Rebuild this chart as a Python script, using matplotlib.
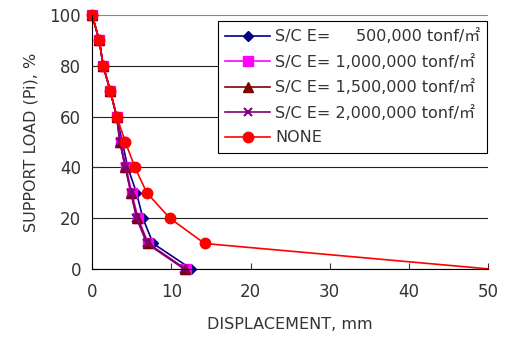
import matplotlib.pyplot as plt

plt.rcParams['font.family'] = ['DejaVu Sans', 'Noto Sans CJK KR']

load = [100, 90, 80, 70, 60, 50, 40, 30, 20, 10, 0]
disp_500k = [0, 0.9, 1.4, 2.3, 3.1, 3.8, 4.5, 5.6, 6.4, 7.7, 12.5]
disp_1000k = [0, 0.9, 1.4, 2.3, 3.1, 3.6, 4.3, 5.0, 5.8, 7.1, 11.8]
disp_1500k = [0, 0.9, 1.4, 2.3, 3.1, 3.5, 4.2, 4.9, 5.7, 7.0, 11.7]
disp_2000k = [0, 0.9, 1.4, 2.3, 3.1, 3.5, 4.2, 4.9, 5.6, 6.9, 11.6]
disp_none = [0, 0.9, 1.4, 2.3, 3.1, 4.2, 5.4, 6.9, 9.8, 14.2, 50]

labels = ['S/C E=     500,000 tonf/㎡',
          'S/C E= 1,000,000 tonf/㎡',
          'S/C E= 1,500,000 tonf/㎡',
          'S/C E= 2,000,000 tonf/㎡',
          'NONE']

fig = plt.figure(figsize=(5.09, 3.51), dpi=100)
ax = fig.add_axes([0.181, 0.234, 0.778, 0.723])

ax.plot(disp_500k, load, color='#000080', marker='D', markersize=5, lw=1.2, label=labels[0], clip_on=False)
ax.plot(disp_1000k, load, color='#ff00ff', marker='s', markersize=6.5, lw=1.2, label=labels[1], clip_on=False)
ax.plot(disp_1500k, load, color='#800000', marker='^', markersize=6.5, lw=1.2, label=labels[2], clip_on=False)
ax.plot(disp_2000k, load, color='#800080', marker='x', markersize=6, mew=1.5, lw=1.2, label=labels[3], clip_on=False)
# last point of NONE sits on the plot edge without a marker
ax.plot(disp_none, load, color='#ff0000', marker='o', markersize=7.5, lw=1.2, label=labels[4],
        markevery=slice(0, len(load) - 1), clip_on=False)

ax.set_xlim(0, 50)
ax.set_ylim(0, 100)
ax.set_xticks(range(0, 51, 10))
ax.set_yticks(range(0, 101, 20))
ax.yaxis.grid(True, color='#222222', lw=0.8)
ax.get_ygridlines()[-1].set_color('#888888')
ax.set_axisbelow(True)
for s in ['top', 'right']:
    ax.spines[s].set_visible(False)
ax.tick_params(direction='in', length=4, labelsize=12, colors='#333333')
ax.tick_params(axis='x', pad=10)
ax.tick_params(axis='y', pad=8)

ax.set_xlabel('DISPLACEMENT, mm', fontsize=11.5, labelpad=12, color='#333333')
ax.set_ylabel('SUPPORT LOAD (Pi), %', fontsize=11.5, labelpad=8, color='#333333')

leg = ax.legend(loc='upper right', bbox_to_anchor=(0.998, 0.976), borderaxespad=0, fontsize=11.5,
                fancybox=False, framealpha=1, edgecolor='black',
                handlelength=2.8, borderpad=0.45, labelspacing=0.6, handletextpad=0.3)
leg.get_frame().set_linewidth(0.8)
for t in leg.get_texts():
    t.set_color('#333333')

fig.savefig('out.png')
